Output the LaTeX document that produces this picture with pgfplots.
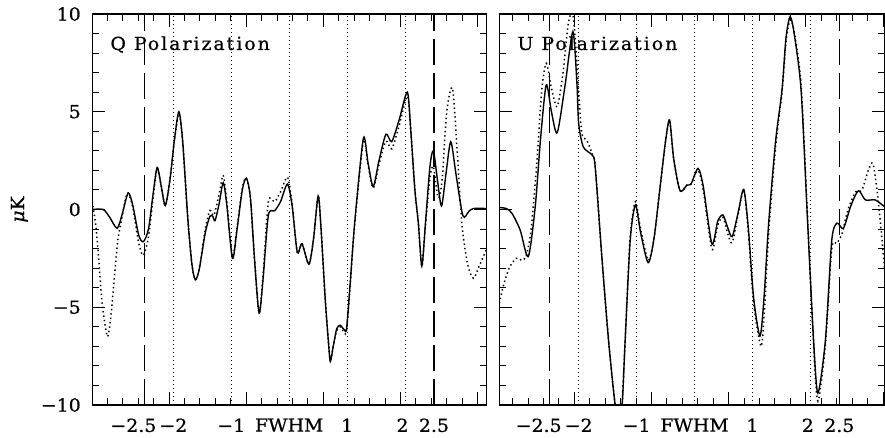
\documentclass[border=0pt]{standalone}
\usepackage{fontspec}
\setmainfont[FakeStretch=1.05,FakeBold=0.6]{DejaVu Serif}
\newfontfamily\titlefont[FakeStretch=1.05,FakeBold=0.6,LetterSpace=11]{DejaVu Serif}
\usepackage{pgfplots}
\pgfplotsset{compat=1.18}

\pgfplotsset{
  panel/.style={
    anchor=south west, scale only axis, height=391pt,
    ymin=-10, ymax=10,
    axis line style={line width=1.1pt},
    every tick/.style={black, line width=0.9pt},
    major tick length=13pt, minor tick length=7pt,
    tick align=inside,
    xtick={-3.407,-2.075,-0.743,0.589,1.921,3.253},
    xticklabels={},
    minor xtick={-3.141,-2.874,-2.608,-2.341,-1.809,-1.542,-1.276,-1.009,-0.477,-0.210,0.056,0.323,0.855,1.122,1.388,1.655,2.187,2.454,2.720,2.987,3.52},
    extra x ticks={-2.5,-2,-1,0,1,2,2.5},
    extra x tick labels={{−2.5\kern22pt},−2,−1,FWHM,1,{2\kern5pt},2.5},
    extra x tick style={major tick length=0pt, xticklabel style={yshift=-10pt}},
    ytick={-10,-5,0,5,10},
    minor y tick num=4,
    tick label style={font=\fontsize{18}{21}\selectfont},
  },
  solidc/.style={black, line width=1.4pt, smooth, tension=0.45},
  dotc/.style={black, line width=1.5pt, dash pattern=on 1.4pt off 3.0pt, smooth, tension=0.45},
  vdot/.style={black, line width=0.8pt, dash pattern=on 1pt off 3pt},
  vdash/.style={black, line width=1.2pt, dash pattern=on 26pt off 8pt},
}

\begin{document}
\begin{tikzpicture}[x=1pt,y=1pt]
\useasboundingbox (0,0) rectangle (885,438);

% ---------------- Q panel ----------------
\begin{axis}[panel, at={(92.3pt,33pt)}, width=394.4pt,
  xmin=-3.40, xmax=3.41,
  yticklabels={−10,−5,0,5,10},
  yticklabel style={xshift=-8pt},
  ylabel={{\itshape μ}K},
  ylabel style={font=\fontsize{18}{21}\selectfont, at={(axis description cs:-0.185,0.5)}, anchor=center, rotate=0},
]
\addplot[vdot] coordinates {(-2,-10) (-2,10)};
\addplot[vdot] coordinates {(-1,-10) (-1,10)};
\addplot[vdot] coordinates {(0,-10) (0,10)};
\addplot[vdot] coordinates {(1,-10) (1,10)};
\addplot[vdot] coordinates {(2,-10) (2,10)};
\addplot[vdash] coordinates {(-2.5,-10) (-2.5,10)};
\addplot[vdash] coordinates {(2.5,-10) (2.5,10)};

\addplot[solidc] coordinates {
(-3.40,0.0) (-3.21,0.0) (-3.10,-0.4) (-2.97,-0.96) (-2.88,-0.2) (-2.78,0.85)
(-2.70,0.2) (-2.60,-1.3) (-2.52,-1.65) (-2.43,-1.0) (-2.35,0.8) (-2.28,2.15)
(-2.21,1.2) (-2.14,0.2) (-2.06,1.5) (-1.98,3.6) (-1.905,5.0) (-1.84,3.5)
(-1.75,-0.5) (-1.68,-2.8) (-1.62,-3.6) (-1.55,-3.0) (-1.45,-1.2) (-1.37,-0.35)
(-1.32,-0.35) (-1.28,-0.57) (-1.21,0.3) (-1.14,1.37) (-1.08,0.3) (-0.98,-2.5)
(-0.90,-1.0) (-0.81,1.0) (-0.74,1.6) (-0.67,0.6) (-0.60,-2.5) (-0.52,-5.3)
(-0.45,-3.5) (-0.36,-0.3) (-0.25,-0.06) (-0.15,0.4) (-0.03,1.3) (0.05,0.2)
(0.14,-2.2) (0.22,-1.75) (0.34,-2.8) (0.42,-1.5) (0.50,0.7) (0.55,-1.0)
(0.62,-4.5) (0.675,-6.7) (0.71,-7.77) (0.76,-7.0) (0.82,-6.1) (0.88,-5.92)
(0.95,-6.15) (0.99,-6.1) (1.05,-3.9) (1.13,-0.7) (1.28,3.64) (1.36,2.4)
(1.45,1.17) (1.55,2.5) (1.67,3.85) (1.77,3.47) (1.90,4.6) (2.04,6.0)
(2.10,4.0) (2.17,1.0) (2.23,-0.7) (2.29,-2.89) (2.35,-0.8) (2.43,2.2)
(2.49,3.0) (2.56,1.5) (2.63,0.18) (2.71,1.9) (2.79,3.47) (2.88,1.8)
(3.00,-0.33) (3.10,-0.1) (3.18,0.05) (3.41,0.05)
};
\addplot[dotc] coordinates {
(-3.40,0.4) (-3.34,-0.8) (-3.29,-2.5) (-3.23,-4.8) (-3.14,-6.5) (-3.08,-5.5)
(-3.03,-3.85) (-2.96,-1.6) (-2.90,-0.6) (-2.83,0.5) (-2.78,0.85) (-2.70,0.1)
(-2.60,-1.7) (-2.52,-2.35) (-2.43,-1.4) (-2.35,0.6) (-2.28,2.1) (-2.21,1.2)
(-2.14,0.2) (-2.06,1.5) (-1.98,3.6) (-1.905,4.9) (-1.84,3.5) (-1.75,-0.5)
(-1.68,-2.8) (-1.62,-3.6) (-1.55,-3.0) (-1.45,-1.0) (-1.37,-0.05) (-1.30,-0.3)
(-1.21,0.8) (-1.14,1.75) (-1.08,0.5) (-0.98,-2.4) (-0.90,-0.9) (-0.81,1.1)
(-0.74,1.6) (-0.67,0.6) (-0.60,-2.5) (-0.52,-5.3) (-0.45,-3.3) (-0.36,0.4)
(-0.25,0.4) (-0.15,0.9) (-0.03,1.65) (0.05,0.3) (0.14,-2.2) (0.22,-1.75)
(0.34,-2.8) (0.42,-1.5) (0.50,0.7) (0.55,-1.0) (0.62,-4.5) (0.675,-6.7)
(0.71,-7.7) (0.76,-7.0) (0.82,-6.2) (0.88,-6.0) (0.95,-6.3) (0.99,-6.2)
(1.05,-4.0) (1.13,-0.8) (1.28,3.5) (1.36,2.3) (1.45,1.1) (1.55,2.3)
(1.67,3.5) (1.77,3.1) (1.90,4.3) (2.04,5.8) (2.10,4.0) (2.17,1.0)
(2.23,-0.7) (2.29,-2.9) (2.35,-0.9) (2.43,1.6) (2.49,2.2) (2.57,0.6)
(2.64,1.5) (2.72,5.0) (2.82,6.2) (2.90,3.0) (2.98,-0.7) (3.08,-2.8)
(3.18,-3.52) (3.28,-2.9) (3.41,-2.0)
};
\node[anchor=base west, font=\titlefont\fontsize{18}{21}\selectfont] at (rel axis cs:0.037,0.908) {Q Polarization};
\end{axis}

% ---------------- U panel ----------------
\begin{axis}[panel, at={(499.3pt,33pt)}, width=385.2pt,
  xmin=-3.37, xmax=3.28,
  yticklabels={},
]
\addplot[vdot] coordinates {(-2,-10) (-2,10)};
\addplot[vdot] coordinates {(-1,-10) (-1,10)};
\addplot[vdot] coordinates {(0,-10) (0,10)};
\addplot[vdot] coordinates {(1,-10) (1,10)};
\addplot[vdot] coordinates {(2,-10) (2,10)};
\addplot[vdash] coordinates {(-2.5,-10) (-2.5,10)};
\addplot[vdash] coordinates {(2.5,-10) (2.5,10)};

\addplot[solidc] coordinates {
(-3.37,0.1) (-3.25,0.05) (-3.15,-0.2) (-3.01,-1.05) (-2.87,-2.41) (-2.75,0.14)
(-2.66,3.55) (-2.56,6.37) (-2.47,5.0) (-2.37,3.93) (-2.23,6.45) (-2.10,9.1)
(-2.03,6.45) (-2.0,4.4) (-1.92,3.2) (-1.77,2.79) (-1.715,2.19) (-1.60,-2.41)
(-1.485,-6.67) (-1.37,-10.0) (-1.31,-10.6) (-1.25,-10.0) (-1.197,-6.67) (-1.11,-1.56)
(-1.02,0.23) (-0.93,-1.2) (-0.80,-2.72) (-0.70,-1.5) (-0.60,1.0) (-0.50,3.5)
(-0.43,4.58) (-0.36,2.6) (-0.25,0.96) (-0.13,1.25) (-0.06,1.3) (0.06,2.1)
(0.15,1.2) (0.30,-1.76) (0.40,-0.6) (0.49,-0.28) (0.57,-0.9) (0.65,-1.39)
(0.75,-0.2) (0.85,1.03) (0.93,-1.0) (1.02,-4.5) (1.13,-6.47) (1.20,-4.5)
(1.28,-0.7) (1.40,3.5) (1.51,6.1) (1.58,8.8) (1.65,9.86) (1.72,9.0)
(1.84,6.1) (1.95,-0.5) (2.055,-6.67) (2.13,-9.39) (2.26,-6.67) (2.37,-1.56)
(2.46,-0.7) (2.57,-0.96) (2.70,0.2) (2.83,0.96) (2.95,0.49) (3.12,0.49)
(3.28,0.14)
};
\addplot[dotc] coordinates {
(-3.37,-4.8) (-3.30,-3.9) (-3.20,-3.0) (-3.08,-2.5) (-2.97,-2.6) (-2.90,-2.3)
(-2.82,-1.0) (-2.72,2.5) (-2.64,6.0) (-2.56,7.48) (-2.47,6.2) (-2.37,5.26)
(-2.27,7.0) (-2.18,9.5) (-2.10,10.0) (-2.03,7.5) (-1.95,4.0) (-1.86,3.55)
(-1.76,2.8) (-1.715,2.2) (-1.60,-2.41) (-1.485,-6.67) (-1.37,-10.0) (-1.31,-10.8)
(-1.25,-10.0) (-1.197,-6.67) (-1.11,-1.4) (-1.02,0.4) (-0.93,-1.0) (-0.80,-2.6)
(-0.70,-1.5) (-0.60,1.0) (-0.50,3.5) (-0.43,4.5) (-0.36,2.6) (-0.25,0.96)
(-0.13,1.25) (-0.06,1.3) (0.06,2.0) (0.15,1.0) (0.30,-2.03) (0.40,-0.8)
(0.49,-0.4) (0.57,-1.2) (0.65,-1.7) (0.75,-0.3) (0.85,1.0) (0.93,-1.2)
(1.02,-4.8) (1.15,-7.0) (1.21,-5.0) (1.28,-1.2) (1.40,3.2) (1.51,6.0)
(1.58,8.6) (1.65,9.7) (1.72,9.1) (1.84,6.4) (1.95,-0.3) (2.055,-6.9)
(2.13,-9.8) (2.26,-6.9) (2.37,-2.0) (2.46,-1.73) (2.55,-1.2) (2.65,0.0)
(2.78,0.9) (2.89,1.0) (3.00,2.0) (3.08,2.36) (3.15,1.0) (3.22,-1.0)
(3.28,-3.0)
};
\node[anchor=base west, font=\titlefont\fontsize{18}{21}\selectfont] at (rel axis cs:0.038,0.908) {U Polarization};
\end{axis}
\end{tikzpicture}
\end{document}
